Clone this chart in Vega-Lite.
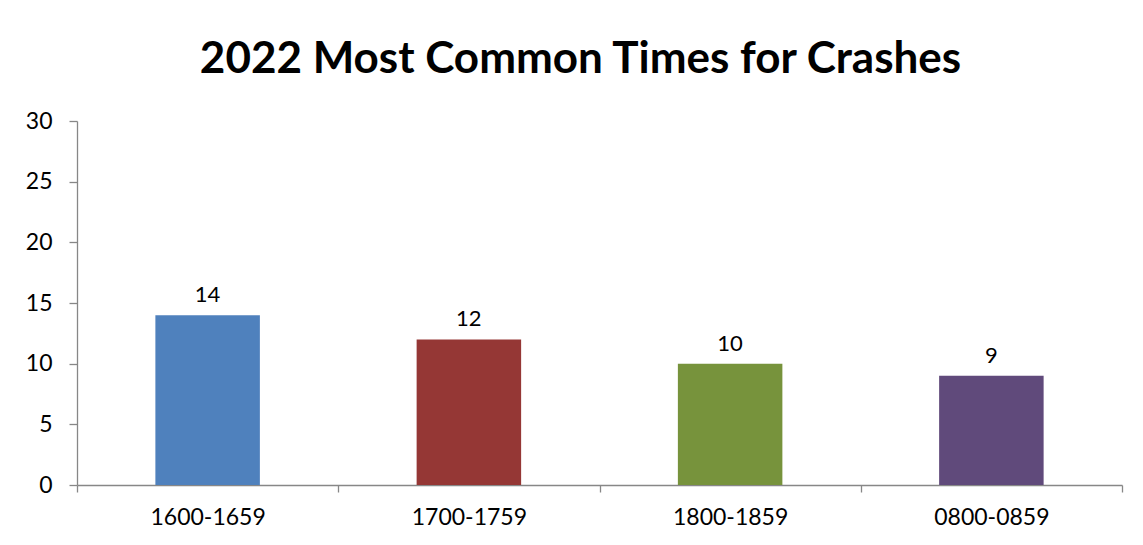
{
  "$schema": "https://vega.github.io/schema/vega-lite/v6.json",
  "width": 1045,
  "height": 364,
  "autosize": {"type": "none"},
  "padding": {"left": 77, "top": 121, "right": 21, "bottom": 60},
  "background": "white",
  "config": {
    "view": {"stroke": null},
    "font": "Lato",
    "axis": {"grid": false, "domainColor": "#878787", "tickColor": "#878787", "labelColor": "#000000", "labelFont": "Lato", "labelFontSize": 23, "domainWidth": 1.3, "tickWidth": 1.3}
  },
  "title": {
    "text": "2022 Most Common Times for Crashes",
    "font": "Lato",
    "fontSize": 44,
    "fontWeight": "bold",
    "color": "#000000",
    "anchor": "middle",
    "baseline": "alphabetic",
    "offset": -7,
    "dx": -19
  },
  "data": {
    "values": [
      {"time": "1600-1659", "crashes": 14},
      {"time": "1700-1759", "crashes": 12},
      {"time": "1800-1859", "crashes": 10},
      {"time": "0800-0859", "crashes": 9}
    ]
  },
  "encoding": {
    "x": {
      "field": "time",
      "type": "nominal",
      "sort": null,
      "scale": {"paddingInner": 0, "paddingOuter": 0},
      "axis": {"title": null, "labelAngle": 0, "tickBand": "extent", "tickSize": 7, "labelPadding": 14}
    },
    "y": {
      "field": "crashes",
      "type": "quantitative",
      "scale": {"domain": [0, 30], "nice": false},
      "axis": {"title": null, "values": [0, 5, 10, 15, 20, 25, 30], "tickSize": 8, "labelPadding": 17}
    }
  },
  "layer": [
    {
      "mark": {"type": "bar", "width": {"band": 0.4}},
      "encoding": {
        "color": {
          "field": "time",
          "type": "nominal",
          "sort": null,
          "scale": {"domain": ["1600-1659", "1700-1759", "1800-1859", "0800-0859"], "range": ["#4F81BD", "#953735", "#77933C", "#604A7B"]},
          "legend": null
        }
      }
    },
    {
      "mark": {"type": "text", "baseline": "alphabetic", "dy": -13, "font": "Lato", "fontSize": 22, "color": "#000000"},
      "encoding": {"text": {"field": "crashes", "type": "quantitative"}}
    }
  ]
}
